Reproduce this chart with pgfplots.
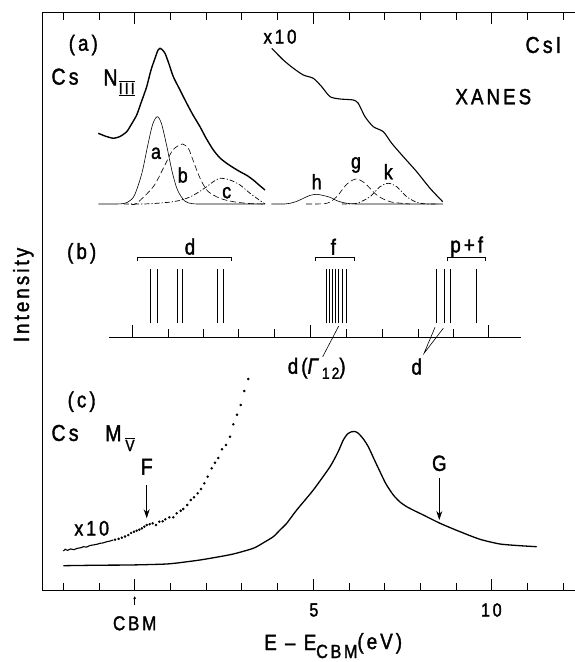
\documentclass[border=0pt]{standalone}
\usepackage{fontspec}
\setmainfont{Liberation Sans}[FakeStretch=0.85,LetterSpace=14,FakeBold=1.6]
\usepackage{pgfplots}
\pgfplotsset{compat=1.18}
\usetikzlibrary{arrows.meta}
\newcommand{\fs}[1]{\fontsize{#1}{#1}\selectfont}

\begin{document}
\begin{tikzpicture}
\begin{axis}[
    scale only axis,
    width=532.3pt, height=578.7pt,
    xmin=-2.577, xmax=12.333,
    ymin=0, ymax=578.7,
    axis y line*=left,
    axis line style={line width=0.9pt},
    xtick={0,5,10},
    minor xtick={-2,-1,1,2,3,4,6,7,8,9,11,12},
    xticklabels={}, ytick=\empty,
    tick align=inside,
    major tick length=12pt, minor tick length=8pt,
    tick style={black, line width=0.8pt},
    clip=false,
]
% ---- (a) Cs N_III
\addplot[black, line width=1.4pt, smooth, tension=0.4] coordinates {
    (-1.020,457.4) (-0.832,454.7) (-0.599,452.4) (-0.412,454.2) (-0.224,459.0)
    (-0.104,465.7) (0.056,475.7) (0.176,487.7) (0.336,504.0) (0.457,520.7)
    (0.569,532.4) (0.653,540.7) (0.709,542.4) (0.765,541.2) (0.849,537.4)
    (0.961,526.7) (1.081,514.0) (1.269,500.7) (1.457,487.4) (1.633,475.7)
    (1.829,464.0) (1.997,452.7) (2.202,440.7) (2.389,432.7) (2.577,427.4)
    (2.754,423.2) (2.950,419.0) (3.146,415.2) (3.322,410.7) (3.482,405.7)
    (3.650,400.7)
};
% component a
\addplot[black, line width=0.6pt, smooth, tension=0.5] coordinates {
    (-1.02,386.7) (-0.5,386.7) (-0.3,387.3) (-0.15,389.5) (0.0,395.9) (0.2,417.3)
    (0.35,442.7) (0.5,466.0) (0.63,474.0) (0.75,467.1) (0.9,444.4) (1.05,418.8)
    (1.2,400.6) (1.4,389.7) (1.6,387.1) (1.8,386.7) (2.2,386.7) (3.65,386.7)
};
% component b
\addplot[black, line width=0.6pt, dash pattern=on 6pt off 3pt, smooth, tension=0.5] coordinates {
    (-0.1,386.7) (0.056,387.4) (0.521,404.0) (0.801,422.4) (1.036,439.0)
    (1.176,444.0) (1.345,446.7) (1.501,442.4) (1.597,434.0) (1.737,420.7)
    (1.877,409.0) (2.062,399.0) (2.389,392.4) (2.762,389.0) (3.2,387.2) (3.602,386.7)
};
% component c
\addplot[black, line width=0.7pt, dash pattern=on 5pt off 2pt on 1.2pt off 2pt, smooth, tension=0.5] coordinates {
    (-0.3,386.7) (0.4,386.9) (1.081,389.0) (1.457,392.4) (1.737,397.4)
    (2.017,404.0) (2.202,409.0) (2.389,412.4) (2.669,410.7) (2.950,405.7)
    (3.230,397.4) (3.462,391.4) (3.650,386.7)
};
% x10 XANES
\addplot[black, line width=1.1pt, smooth, tension=0.4] coordinates {
    (3.838,542.4) (4.162,530.7) (4.434,522.7) (4.723,515.7) (5.003,512.4)
    (5.238,504.0) (5.471,494.0) (5.751,491.7) (6.123,490.7) (6.263,487.4)
    (6.451,474.0) (6.683,464.0) (6.964,459.0) (7.199,447.4) (7.524,434.0)
    (7.899,419.0) (8.272,402.4) (8.627,389.0)
};
% component h
\addplot[black, line width=0.6pt, smooth, tension=0.5] coordinates {
    (3.83,386.7) (4.2,386.7) (4.353,387.4) (4.55,389.5) (4.726,392.4) (4.9,395.2)
    (5.098,396.4) (5.3,395.0) (5.471,393.4) (5.7,389.5) (5.938,387.4) (6.2,386.7)
    (6.6,386.7) (8.63,386.7)
};
% component g
\addplot[black, line width=0.6pt, dash pattern=on 6pt off 3pt, smooth, tension=0.5] coordinates {
    (4.8,386.7) (5.378,387.4) (5.658,394.0) (5.938,406.4) (6.199,411.7)
    (6.451,407.4) (6.779,395.7) (7.151,389.0) (7.711,386.7)
};
% component k
\addplot[black, line width=0.7pt, dash pattern=on 5pt off 2pt on 1.2pt off 2pt, smooth, tension=0.5] coordinates {
    (5.8,386.7) (6.218,387.4) (6.591,394.0) (6.871,404.0) (7.104,407.4)
    (7.339,404.0) (7.619,394.0) (7.899,388.4) (8.179,386.7) (8.5,386.7)
};
% ---- (b) level scheme
\addplot[black, line width=0.9pt] coordinates {(-0.711,253.2) (10.81,253.2)};
\addplot[black, line width=0.8pt, unbounded coords=jump] coordinates {
    (-0.06,253.2) (-0.06,265.2) (0,nan)
    (0.93,253.2) (0.93,261.2) (1,nan)
    (1.92,253.2) (1.92,261.2) (2,nan)
    (2.91,253.2) (2.91,261.2) (3,nan)
    (3.92,253.2) (3.92,261.2) (4,nan)
    (4.93,253.2) (4.93,265.2) (5,nan)
    (5.94,253.2) (5.94,261.2) (6,nan)
    (6.94,253.2) (6.94,261.2) (7,nan)
    (7.94,253.2) (7.94,261.2) (8,nan)
    (8.93,253.2) (8.93,261.2) (9,nan)
    (9.91,253.2) (9.91,265.2)
};
\addplot[black, line width=0.6pt, unbounded coords=jump] coordinates {
    (0.437,267.4) (0.437,321.4) (0.5,nan)
    (0.633,267.4) (0.633,321.4) (0.7,nan)
    (1.204,267.4) (1.204,321.4) (1.25,nan)
    (1.325,267.4) (1.325,321.4) (1.4,nan)
    (2.325,267.4) (2.325,321.4) (2.4,nan)
    (2.482,267.4) (2.482,321.4) (2.5,nan)
    (5.359,267.4) (5.359,321.4) (5.4,nan)
    (5.443,267.4) (5.443,321.4) (5.5,nan)
    (5.535,267.4) (5.535,321.4) (5.6,nan)
    (5.619,267.4) (5.619,321.4) (5.65,nan)
    (5.714,267.4) (5.714,321.4) (5.75,nan)
    (5.807,267.4) (5.807,321.4) (5.85,nan)
    (5.938,267.4) (5.938,321.4) (6.0,nan)
    (8.459,267.4) (8.459,321.4) (8.5,nan)
    (8.672,267.4) (8.672,321.4) (8.7,nan)
    (8.852,267.4) (8.852,321.4) (8.9,nan)
    (9.580,267.4) (9.580,321.4)
};
% brackets
\draw[line width=0.7pt] (axis cs:0.084,329.6) -- (axis cs:0.084,333.4) -- (axis cs:2.706,333.4) -- (axis cs:2.706,329.6);
\draw[line width=0.7pt] (axis cs:5.050,329.6) -- (axis cs:5.050,333.4) -- (axis cs:6.143,333.4) -- (axis cs:6.143,329.6);
\draw[line width=0.7pt] (axis cs:8.756,329.6) -- (axis cs:8.756,333.4) -- (axis cs:9.812,333.4) -- (axis cs:9.812,329.6);
% leaders
\draw[line width=0.6pt] (axis cs:5.714,264.7) -- (axis cs:5.266,234.0);
\draw[line width=0.6pt] (axis cs:8.412,263.4) -- (axis cs:8.104,237.4) -- (axis cs:8.644,262.4);
% ---- (c) Cs M_V
\addplot[black, line width=1.3pt, smooth, tension=0.4] coordinates {
    (-2.0,25.0) (-0.972,25.5) (-0.132,25.7) (0.896,26.7) (1.409,28.7) (1.829,30.7)
    (2.249,33.2) (2.762,36.7) (3.322,42.4) (3.594,47.7) (3.882,54.0) (4.070,60.7)
    (4.258,67.4) (4.538,80.7) (5.003,100.7) (5.471,124.0) (5.695,138.7) (5.843,150.7)
    (5.961,156.7) (6.078,159.0) (6.171,159.2) (6.263,157.4) (6.395,152.2) (6.543,144.0)
    (6.703,131.7) (6.871,119.0) (7.039,106.7) (7.244,95.7) (7.431,88.7) (7.619,84.0)
    (7.852,79.7) (8.084,75.7) (8.552,67.4) (9.112,59.0) (9.672,51.4) (10.232,46.7)
    (10.792,45.0) (11.261,44.0)
};
% x10, dense part
\addplot[black, line width=1.1pt] coordinates {
    (-2.0,39.7) (-1.95,41.5) (-1.88,40.3) (-1.8,41.8) (-1.7,41.0) (-1.62,42.3)
    (-1.5,43.0) (-1.44,44.0) (-1.35,43.6) (-1.25,45.2) (-1.15,45.8) (-1.05,46.5)
    (-0.97,47.4) (-0.88,47.8) (-0.78,49.0) (-0.7,49.6) (-0.6,50.7)
};
% x10, dotted part
\addplot[black, only marks, mark=*, mark size=1.05pt] coordinates {
    (-0.55,51.0) (-0.45,51.8) (-0.36,53.0) (-0.27,54.2) (-0.18,55.6) (-0.10,57.7)
    (-0.02,59.0) (0.056,60.0) (0.13,61.0) (0.2,62.3) (0.27,64.0) (0.336,65.7)
    (0.42,66.5) (0.504,67.4) (0.597,65.7) (0.689,69.0) (0.784,69.4) (0.857,71.4)
    (0.969,73.4) (1.081,73.4) (1.176,77.4) (1.289,80.0) (1.361,81.7) (1.473,85.7)
    (1.569,90.7) (1.661,93.4) (1.765,97.4) (1.857,101.7) (1.950,107.4) (2.045,114.0)
    (2.157,122.4) (2.249,128.0) (2.342,132.7) (2.445,141.4) (2.557,145.7) (2.669,154.0)
    (2.762,166.4) (2.866,176.0) (2.969,185.7) (3.070,199.7) (3.182,211.7)
};
% arrows
\draw[line width=0.8pt, -{Stealth[length=9pt,width=6pt]}] (axis cs:0.336,105.7) -- (axis cs:0.336,72.4);
\draw[line width=0.8pt, -{Stealth[length=9pt,width=6pt]}] (axis cs:8.532,112.4) -- (axis cs:8.532,70.7);
\draw[line width=0.6pt, -{Stealth[length=3pt,width=3pt]}] (axis cs:0,-14.3) -- (axis cs:0,-5.5);
% ---- texts
\node[font=\fs{22}] at (axis cs:-1.440,545.7) {(a)};
\node[font=\fs{23}] at (axis cs:-1.952,514.0) {Cs};
\node[font=\fs{23}] at (axis cs:-0.678,513.2) {N};
\node[font=\fs{22}] at (axis cs:-0.224,502.2) {$\overline{\underline{\mbox{\fs{16}III}}}$};
\node[font=\fs{21}] at (axis cs:0.597,437.4) {a};
\node[font=\fs{21}] at (axis cs:1.345,415.7) {b};
\node[font=\fs{21}] at (axis cs:2.577,398.0) {c};
\node[font=\fs{20}] at (axis cs:4.070,554.0) {x10};
\node[font=\fs{21}] at (axis cs:5.098,409.0) {h};
\node[font=\fs{21}] at (axis cs:6.199,425.7) {g};
\node[font=\fs{21}] at (axis cs:7.104,419.0) {k};
\node[font=\fs{23}] at (axis cs:11.448,545.7) {CsI};
\node[font=\fs{22}] at (axis cs:10.045,494.0) {XANES};
\node[font=\fs{22}] at (axis cs:-1.485,337.4) {(b)};
\node[font=\fs{22}] at (axis cs:1.549,344.0) {d};
\node[font=\fs{22}] at (axis cs:5.563,344.0) {f};
\node[font=\fs{22}] at (axis cs:9.300,344.0) {p+f};
\node[font=\fs{22}] at (axis cs:5.098,222.4) {d(\textit{Γ}\raisebox{-5pt}{\fs{16}12})};
\node[font=\fs{22}] at (axis cs:7.899,224.0) {d};
\node[font=\fs{22}] at (axis cs:-1.485,189.0) {(c)};
\node[font=\fs{23}] at (axis cs:-1.952,157.7) {Cs};
\node[font=\fs{23}] at (axis cs:-0.599,157.4) {M};
\node[font=\fs{22}] at (axis cs:-0.132,146.2) {$\overline{\mbox{\fs{16}V}}$};
\node[font=\fs{23}] at (axis cs:0.336,124.0) {F};
\node[font=\fs{21}] at (axis cs:-1.204,62.4) {x10};
\node[font=\fs{22}] at (axis cs:8.532,127.4) {G};
\node[font=\fs{19}] at (axis cs:5.02,-19.3) {5};
\node[font=\fs{19}] at (axis cs:9.99,-19.3) {10};
\node[font=\fs{20}] at (axis cs:0,-32.6) {CBM};
\node[font=\fs{22}, anchor=base] at (axis cs:5.56,-59.3) {E – E\raisebox{-8pt}{\fs{19}CBM}\raisebox{1pt}{(eV)}};
\node[font=\fs{22}, rotate=90] at (axis cs:-3.12,295.7) {Intensity};
\end{axis}
\pgfresetboundingbox
\path[use as bounding box] (current axis.south west) ++(-42.7pt,-71.3pt) rectangle ++(575pt,662pt);
\end{tikzpicture}
\end{document}
